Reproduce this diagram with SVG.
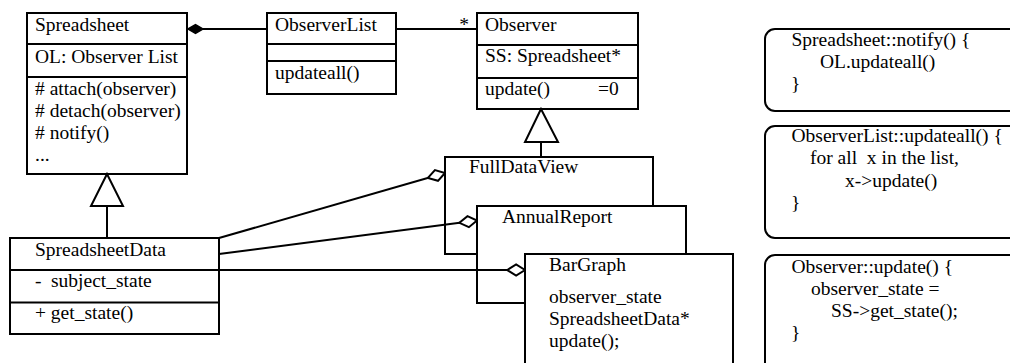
<svg xmlns="http://www.w3.org/2000/svg" width="1010" height="363" viewBox="0 0 1010 363">
<defs>
<style>
text{font-family:"Liberation Serif","Times New Roman",serif;font-size:19.5px;fill:#000}
.box{fill:#fff;stroke:#000;stroke-width:2}
.div{stroke:#000;stroke-width:2;fill:none}
.note{fill:#fff;stroke:#000;stroke-width:2}
.ln{stroke:#000;stroke-width:2;fill:none}
.tri{fill:#fff;stroke:#000;stroke-width:2}
</style>
<marker id="odia" markerUnits="userSpaceOnUse" markerWidth="20" markerHeight="14" refX="16" refY="5" orient="auto" viewBox="-1 -1 18 12">
<path d="M0,5 L8,0 L16,5 L8,10 Z" fill="#fff" stroke="#000" stroke-width="1.8"/>
</marker>
</defs>
<rect width="1010" height="363" fill="#fff"/>

<g id="Spreadsheet">
<rect class="box" x="27" y="13" width="160" height="161"/>
<line class="div" x1="27" y1="44" x2="187" y2="44"/>
<line class="div" x1="27" y1="77" x2="187" y2="77"/>
<text x="35" y="30.5">Spreadsheet</text>
<text x="35" y="63">OL: Observer List</text>
<text x="35" y="95"># attach(observer)</text>
<text x="35" y="117"># detach(observer)</text>
<text x="35" y="139"># notify()</text>
<text x="35" y="161">...</text>
</g>

<g id="ObserverList">
<rect class="box" x="267" y="13" width="129" height="81"/>
<line class="div" x1="267" y1="44" x2="396" y2="44"/>
<line class="div" x1="267" y1="61" x2="396" y2="61"/>
<text x="275" y="30.5">ObserverList</text>
<text x="275" y="79">updateall()</text>
</g>

<g id="Observer">
<rect class="box" x="477" y="13" width="161" height="96"/>
<line class="div" x1="477" y1="45" x2="638" y2="45"/>
<line class="div" x1="477" y1="78" x2="638" y2="78"/>
<text x="485" y="30.5">Observer</text>
<text x="485" y="62">SS: Spreadsheet*</text>
<text x="485" y="95">update()</text>
<text x="598" y="95">=0</text>
</g>

<g id="FullDataView">
<rect class="box" x="445" y="157" width="208" height="97"/>
<text x="469" y="173">FullDataView</text>
</g>

<g id="AnnualReport">
<rect class="box" x="477" y="206" width="209" height="97"/>
<text x="502" y="222.5">AnnualReport</text>
</g>

<g id="BarGraph">
<rect class="box" x="525" y="254" width="208" height="130"/>
<text x="549" y="270.5">BarGraph</text>
<text x="549" y="303">observer_state</text>
<text x="549" y="325">SpreadsheetData*</text>
<text x="549" y="347">update();</text>
</g>

<g id="SpreadsheetData">
<rect class="box" x="10" y="238" width="209" height="96"/>
<line class="div" x1="10" y1="270" x2="219" y2="270"/>
<line class="div" x1="10" y1="302.5" x2="219" y2="302.5"/>
<text x="35" y="256">SpreadsheetData</text>
<text x="35" y="287">-</text>
<text x="51" y="287">subject_state</text>
<text x="35" y="319">+ get_state()</text>
</g>

<g id="note-notify">
<rect class="note" x="765" y="29" width="265" height="82" rx="10" ry="10"/>
<text x="791.5" y="46">Spreadsheet::notify() {</text>
<text x="820" y="68">OL.updateall()</text>
<text x="791" y="90">}</text>
</g>

<g id="note-updateall">
<rect class="note" x="765" y="126" width="265" height="112" rx="10" ry="10"/>
<text x="791.5" y="141.5">ObserverList::updateall() {</text>
<text x="810" y="163.5" xml:space="preserve">for all  x in the list,</text>
<text x="845" y="186.5">x-&gt;update()</text>
<text x="791" y="209">}</text>
</g>

<g id="note-update">
<rect class="note" x="765" y="255" width="265" height="130" rx="10" ry="10"/>
<text x="791.5" y="273">Observer::update() {</text>
<text x="811" y="295">observer_state =</text>
<text x="831" y="317">SS-&gt;get_state();</text>
<text x="791" y="338.5">}</text>
</g>

<g id="connectors">
<line class="ln" x1="203" y1="29" x2="267" y2="29"/>
<path d="M188,29 L195.5,24.5 L203,29 L195.5,33.5 Z" fill="#000" stroke="#000" stroke-width="1.5"/>
<line class="ln" x1="396" y1="29" x2="477" y2="29"/>
<text x="464" y="31" text-anchor="middle">*</text>
<polygon class="tri" points="541,109 525,142 558,142"/>
<line class="ln" x1="541" y1="142" x2="541" y2="157"/>
<polygon class="tri" points="107,174 91,206 123,206"/>
<line class="ln" x1="107" y1="206" x2="107" y2="238"/>
<line class="ln" x1="219" y1="238" x2="445" y2="173" marker-end="url(#odia)"/>
<line class="ln" x1="219" y1="254" x2="477" y2="220.5" marker-end="url(#odia)"/>
<line class="ln" x1="219" y1="270" x2="525" y2="270" marker-end="url(#odia)"/>
</g>
</svg>
